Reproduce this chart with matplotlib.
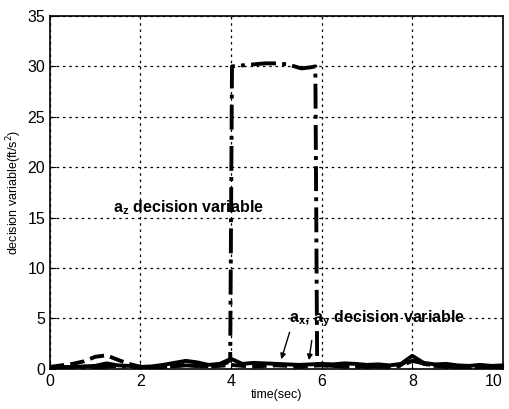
import numpy as np
import matplotlib
matplotlib.use('Agg')
import matplotlib.pyplot as plt

plt.rcParams['font.family'] = ['Liberation Sans', 'DejaVu Sans']

# time axis for the low-level signals (sec)
t = [0.0, 0.25, 0.5, 0.75, 1.0, 1.25, 1.5, 1.75, 2.0, 2.25, 2.5, 2.75,
     3.0, 3.25, 3.5, 3.75, 4.0, 4.25, 4.5, 4.75, 5.0, 5.25, 5.5, 5.75,
     6.0, 6.25, 6.5, 6.75, 7.0, 7.25, 7.5, 7.75, 8.0, 8.25, 8.5, 8.75,
     9.0, 9.25, 9.5, 9.75, 10.0]

# a_x decision variable (dashed)
ax_dv = [0.2, 0.35, 0.5, 0.75, 1.2, 1.35, 0.9, 0.5, 0.2, 0.1, 0.15, 0.3,
         0.4, 0.3, 0.25, 0.3, 0.4, 0.3, 0.25, 0.3, 0.35, 0.3, 0.2, 0.3,
         0.35, 0.3, 0.25, 0.3, 0.2, 0.25, 0.2, 0.4, 1.1, 0.5, 0.3, 0.2,
         0.15, 0.2, 0.1, 0.2, 0.15]

# a_y decision variable (solid)
ay_dv = [0.1, 0.15, 0.2, 0.25, 0.3, 0.55, 0.35, 0.3, 0.2, 0.25, 0.4, 0.6,
         0.8, 0.65, 0.4, 0.5, 1.0, 0.5, 0.6, 0.55, 0.5, 0.45, 0.4, 0.45,
         0.5, 0.45, 0.55, 0.5, 0.4, 0.45, 0.35, 0.5, 1.3, 0.6, 0.45, 0.5,
         0.35, 0.3, 0.4, 0.3, 0.35]

# a_z decision variable (dash-dot)
tz = [0.0, 0.5, 1.0, 1.5, 2.0, 2.5, 3.0, 3.5, 3.9, 3.98, 4.02, 4.25,
      4.5, 4.75, 5.0, 5.25, 5.4, 5.55, 5.75, 5.86, 5.9, 6.25, 6.75, 7.25,
      7.75, 8.0, 8.5, 9.0, 9.5, 10.0]
az_dv = [0.1, 0.2, 0.15, 0.3, 0.1, 0.2, 0.35, 0.25, 0.6, 0.9, 30.0, 30.1,
         30.2, 30.3, 30.3, 30.2, 30.0, 29.8, 29.9, 30.0, 0.4, 0.3, 0.2, 0.25,
         0.3, 0.8, 0.3, 0.2, 0.15, 0.2]

fig = plt.figure(figsize=(5.09, 4.09), dpi=100)
ax = fig.add_axes([0.098, 0.098, 0.890, 0.863])

ax.plot(tz, az_dv, color='black', linestyle='-.', linewidth=2.8)
ax.plot(t, ax_dv, color='black', linestyle='--', linewidth=2.8)
ax.plot(t, ay_dv, color='black', linestyle='-', linewidth=2.8)

ax.set_xlim(0, 10)
ax.set_ylim(0, 35)
ax.set_xticks([0, 2, 4, 6, 8, 10])
ax.set_yticks([0, 5, 10, 15, 20, 25, 30, 35])
ax.grid(True, color='black', linestyle=(0, (2, 3)), linewidth=0.9)
ax.tick_params(direction='in', labelsize=11.5, length=4)
for s in ax.spines.values():
    s.set_linewidth(1.2)
# keep the last x label inside the canvas
ax.get_xticklabels()[-1].set_horizontalalignment('right')
ax.get_xticklabels()[-1].set_x(10.08)

ax.set_xlabel('time(sec)', fontsize=9, labelpad=0)
ax.set_ylabel('decision variable(ft/s$^2$)', fontsize=9, labelpad=2)

ax.text(1.4, 15.5, r'a$_\mathregular{z}$ decision variable', fontsize=11.5,
        fontweight='bold')
ax.text(5.27, 4.6, r'a$_\mathregular{x}$, a$_\mathregular{y}$ decision variable',
        fontsize=11.5, fontweight='bold')
ax.annotate('', xy=(5.09, 0.7), xytext=(5.31, 3.9),
            arrowprops=dict(arrowstyle='-|>', color='black', lw=1, mutation_scale=8))
ax.annotate('', xy=(5.71, 0.6), xytext=(5.79, 3.1),
            arrowprops=dict(arrowstyle='-|>', color='black', lw=1, mutation_scale=8))

fig.savefig('out.png', dpi=100)
